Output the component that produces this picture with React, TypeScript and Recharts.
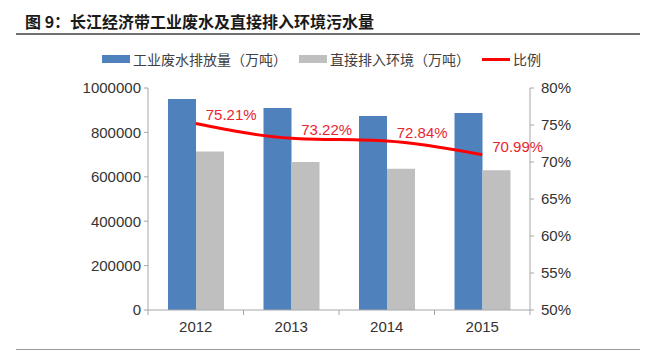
import React from 'react';
import { ComposedChart, Bar, Line, XAxis, YAxis, LabelList } from 'recharts';

const years = ['2012', '2013', '2014', '2015'];
const dischargeTotal = [950000, 910000, 874000, 887000];
const directToEnv = [714500, 666300, 636600, 629700];
const ratioPct = [75.21, 73.22, 72.84, 70.99];
const leftTicks = [0, 200000, 400000, 600000, 800000, 1000000];
const rightTicks = [50, 55, 60, 65, 70, 75, 80];

const data = years.map((year, i) => ({
    year,
    total: dischargeTotal[i],
    direct: directToEnv[i],
    ratio: ratioPct[i],
}));

const BLUE = '#4F81BD';
const GREY = '#BFBFBF';
const RED = '#FF0000';
const AXIS = '#A6A6A6';
const numFont = '"Liberation Sans", Arial, sans-serif';
const cjkFont = '"Noto Sans CJK SC", sans-serif';

// category tick: label at centre, tick marks on the band boundaries (Excel style)
const YearTick = (props: any) => {
    const { x, y, payload, width, visibleTicksCount, index } = props;
    const count = visibleTicksCount || years.length;
    const half = payload && payload.offset ? payload.offset : width ? width / count / 2 : 0;
    return (
        <g>
            {half > 0 && (
                <>
                    <line x1={x - half} x2={x - half} y1={y} y2={y + 5} stroke={AXIS} />
                    {index === count - 1 && (
                        <line x1={x + half} x2={x + half} y1={y} y2={y + 5} stroke={AXIS} />
                    )}
                </>
            )}
            <text x={x} y={y + 22} textAnchor="middle" fill="#333" fontSize={15} fontFamily={numFont}>
                {payload.value}
            </text>
        </g>
    );
};

const RatioLabel = (props: any) => {
    const { x, y, value } = props;
    return (
        <text x={x + 10} y={y - 7} fill="#E8262F" fontSize={15} fontFamily={numFont} dominantBaseline="middle">
            {`${Number(value).toFixed(2)}%`}
        </text>
    );
};

const LegendItem: React.FC<{ swatch: React.ReactNode; label: string; gap?: number }> = ({ swatch, label, gap = 12 }) => (
    <div style={{ display: 'flex', alignItems: 'center', marginRight: gap }}>
        {swatch}
        <span style={{ marginLeft: 3 }}>{label}</span>
    </div>
);

const App: React.FC = () => {
    return (
        <div style={{ position: 'absolute', left: 0, top: 0, width: 665, height: 359, background: '#fff', overflow: 'hidden' }}>
            <div
                style={{
                    position: 'absolute',
                    left: 25,
                    top: 10,
                    fontFamily: cjkFont,
                    fontWeight: 'bold',
                    fontSize: 16,
                    color: '#1a1a1a',
                    lineHeight: '22px',
                }}
            >
                图 9：长江经济带工业废水及直接排入环境污水量
            </div>
            <div style={{ position: 'absolute', left: 16, top: 33, width: 624, height: 1.5, background: '#6f6f6f' }} />

            {/* legend */}
            <div
                style={{
                    position: 'absolute',
                    left: 102,
                    top: 49,
                    display: 'flex',
                    fontFamily: cjkFont,
                    fontSize: 14,
                    color: '#404040',
                    lineHeight: '20px',
                }}
            >
                <LegendItem swatch={<div style={{ width: 28, height: 8, background: BLUE }} />} label="工业废水排放量（万吨）" />
                <LegendItem swatch={<div style={{ width: 28, height: 8, background: GREY }} />} label="直接排入环境（万吨）" />
                <LegendItem swatch={<div style={{ width: 28, height: 3, background: RED }} />} label="比例" />
            </div>

            <div style={{ position: 'absolute', left: 0, top: 70 }}>
                <ComposedChart
                    width={665}
                    height={280}
                    data={data}
                    margin={{ top: 18, right: 0, bottom: 10, left: 0 }}
                    barGap={0}
                    barSize={28}
                >
                    <XAxis
                        dataKey="year"
                        axisLine={{ stroke: AXIS }}
                        tickLine={false}
                        tickSize={0}
                        tickMargin={0}
                        tick={<YearTick />}
                        height={30}
                    />
                    <YAxis
                        yAxisId="left"
                        width={148}
                        domain={[0, 1000000]}
                        ticks={leftTicks}
                        interval={0}
                        axisLine={{ stroke: AXIS }}
                        tickLine={{ stroke: AXIS }}
                        tickSize={4}
                        tickMargin={3}
                        tick={{ fill: '#333', fontSize: 15, fontFamily: numFont }}
                    />
                    <YAxis
                        yAxisId="right"
                        orientation="right"
                        width={135}
                        domain={[50, 80]}
                        ticks={rightTicks}
                        interval={0}
                        axisLine={{ stroke: AXIS }}
                        tickLine={{ stroke: AXIS }}
                        tickSize={4}
                        tickMargin={7}
                        tickFormatter={(v: number) => `${v}%`}
                        tick={{ fill: '#333', fontSize: 15, fontFamily: numFont }}
                    />
                    <Bar yAxisId="left" dataKey="total" fill={BLUE} isAnimationActive={false} />
                    <Bar yAxisId="left" dataKey="direct" fill={GREY} isAnimationActive={false} />
                    <Line
                        yAxisId="right"
                        type="monotone"
                        dataKey="ratio"
                        stroke={RED}
                        strokeWidth={3}
                        dot={false}
                        isAnimationActive={false}
                    >
                        <LabelList dataKey="ratio" content={<RatioLabel />} />
                    </Line>
                </ComposedChart>
            </div>

            <div style={{ position: 'absolute', left: 16, top: 349, width: 624, height: 1, background: '#999' }} />
        </div>
    );
};

export default App;
